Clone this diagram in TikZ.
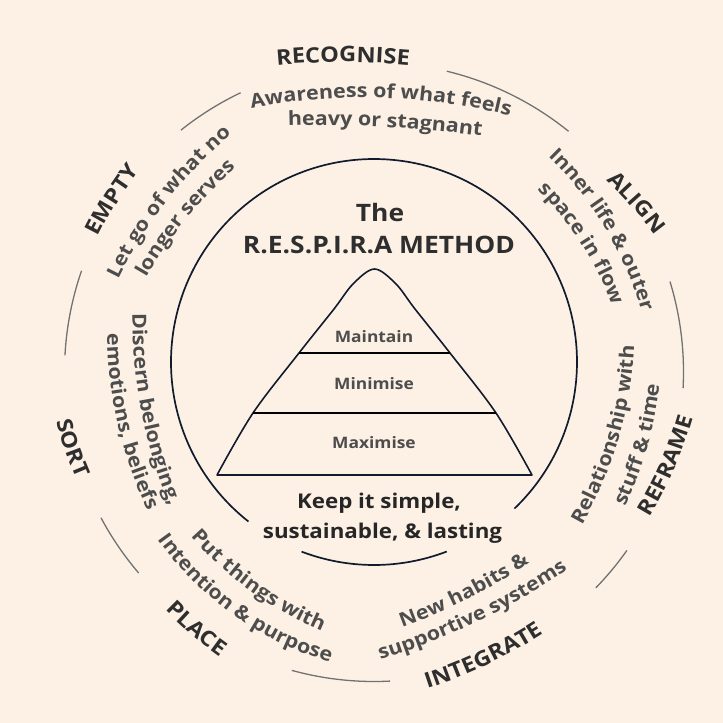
\documentclass[tikz,border=0pt]{standalone}
\usepackage{fontspec}
\setmainfont{Open Sans}[FakeStretch=1.1]
\usetikzlibrary{calc,decorations.text}
\definecolor{bg}{HTML}{FDF1E5}
\definecolor{labc}{HTML}{2E2E2E}
\definecolor{descc}{HTML}{4D4D4D}
\definecolor{navy}{HTML}{101B2D}
\definecolor{segc}{HTML}{727272}
\newcommand\labf{\fontsize{21.4}{25}\selectfont\bfseries\color{labc}}
\newcommand\descf{\fontsize{19.5}{23}\selectfont\bfseries\color{descc}}
% clockwise text (letter tops outward); Mx My(image) phi R text
\newcommand\cwtext[5]{%
  \pgfmathsetmacro\dlt{min(80,11460/#4)}%
  \path[decorate,decoration={text along path,text align=center,text={#5}}]
    ($(#1,-#2)+({#3+180}:#4pt)+({#3+\dlt}:#4pt)$) arc[start angle=#3+\dlt, end angle=#3-\dlt, radius=#4pt];}
% counter-clockwise text (letter tops inward)
\newcommand\ccwtext[5]{%
  \pgfmathsetmacro\dlt{min(80,11460/#4)}%
  \path[decorate,decoration={text along path,text align=center,text={#5}}]
    ($(#1,-#2)+({#3+180}:#4pt)+({#3-\dlt}:#4pt)$) arc[start angle=#3-\dlt, end angle=#3+\dlt, radius=#4pt];}
\begin{document}
\begin{tikzpicture}[x=1pt,y=1pt,
  seg/.style={draw=segc,line width=1.3pt},
  ring/.style={draw=navy,line width=1.7pt},
  pyr/.style={draw=navy,line width=1.6pt,line join=round},
  tier/.style={draw=black,line width=2pt},
  titlef/.style={font=\fontsize{24}{28}\selectfont\bfseries,text=labc,inner sep=0pt},
  pyrf/.style={font=\fontsize{15.8}{19}\selectfont\bfseries,text=descc,inner sep=0pt},
  keepf/.style={font=\fontsize{20.3}{24}\selectfont\bfseries,text=black!85,inner sep=0pt}]
\useasboundingbox (0,0) rectangle (723,-723);
\fill[bg] (0,0) rectangle (723,-723);
\coordinate (C) at (374,-362);
\coordinate (O) at (374,-372);
% outer ring segments
\foreach \a/\b in {76.4/51.05, 128.6/115.55, 176.9/160.9, 17/-3, -35.2/-44.2, -87/-105.4, -139.5/-151.9}
  \draw[seg] ([shift={(\a:309.5pt)}]O) arc[start angle=\a, end angle=\b, radius=309.5pt];
% inner circle with two gaps
\draw[ring] ([shift={(-46.2:203pt)}]C) arc[start angle=-46.2, end angle=231.8, radius=203pt];
\draw[ring] ([shift={(-110.9:203pt)}]C) arc[start angle=-110.9, end angle=-69, radius=203pt];
% pyramid
\draw[pyr] plot[smooth,tension=0.55] coordinates {(217,-475) (253,-413) (299,-353) (334,-309) (353,-284) (374.5,-269) (396,-284) (415,-309) (450,-353) (496,-413) (532,-475)} -- cycle;
\draw[tier] (299,-353) -- (450,-353);
\draw[tier] (253,-413) -- (496,-413);
\node[pyrf,anchor=base] (mt) at (374,-342) {Maintain};
\node[pyrf,anchor=base] (mn) at (374,-389) {Minimise};
\node[pyrf,anchor=base] (mx) at (374,-448) {Maximise};
% titles
\node[titlef,anchor=base] (t1) at (380,-221) {The};
\node[titlef,anchor=base] (t2) at (379,-253) {R.E.S.P.I.R.A METHOD};
\node[keepf,anchor=base] (k1) at (379,-508) {Keep it simple,};
\node[keepf,anchor=base] (k2) at (382.5,-538) {sustainable, \& lasting};
% top group
\cwtext{343}{62}{90}{700}{|\labf|RECOGNISE}
\cwtext{381}{98}{88.3}{600}{|\descf|Awareness of what feels}
\cwtext{385}{127}{87}{1200}{|\descf|heavy or stagnant}
% align group
\cwtext{631.6}{206.6}{41.4}{400}{|\labf|ALIGN}
\cwtext{605.2}{228}{31}{350}{|\descf|Inner life {\&} outer}
\cwtext{581.4}{243.8}{32.7}{330}{|\descf|space in flow}
% reframe group
\ccwtext{618.7}{438.7}{-16.2}{400}{|\descf|Relationship with}
\ccwtext{647.3}{447.1}{-15.7}{380}{|\descf|stuff {\&} time}
\ccwtext{674.6}{469.2}{-23.7}{400}{|\labf|REFRAME}
% integrate group
\ccwtext{467.8}{599}{-63.4}{600}{|\descf|New habits {\&}}
\ccwtext{477.3}{621.7}{-64.3}{700}{|\descf|supportive systems}
\ccwtext{487.4}{664.6}{-64.6}{500}{|\labf|INTEGRATE}
% place group
\ccwtext{251}{591.4}{-125.8}{370}{|\descf|Put things with}
\ccwtext{233.6}{615.4}{-125.5}{320}{|\descf|Intention {\&} purpose}
\ccwtext{191.5}{634.7}{-130.6}{400}{|\labf|PLACE}
% sort group
\ccwtext{141.4}{411.6}{-169.1}{500}{|\descf|Discern belonging,}
\ccwtext{117.8}{424.5}{-167}{420}{|\descf|emotions, beliefs}
\ccwtext{65.3}{450.3}{-160.9}{400}{|\labf|SORT}
% empty group
\cwtext{117.2}{202.8}{147.9}{400}{|\labf|EMPTY}
\cwtext{167.5}{200.8}{142.1}{450}{|\descf|Let go of what no}
\cwtext{186.6}{219}{141}{450}{|\descf|longer serves}
\end{tikzpicture}
\end{document}
